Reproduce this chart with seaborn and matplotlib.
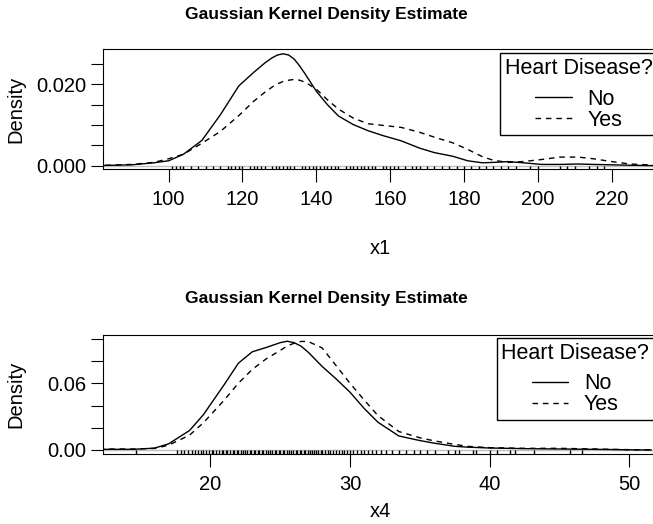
import numpy as np
import pandas as pd
import matplotlib
matplotlib.use("Agg")
import matplotlib.pyplot as plt
import seaborn as sns

# ------------------------------------------------------------
# density curves (x1 panel)
# ------------------------------------------------------------
x1_grid = [80, 90, 96, 100, 104, 109, 114, 119, 123, 126, 128, 129.5, 131,
           132.5, 134, 135.5, 137, 140, 143, 146, 150, 154, 158, 163, 168,
           172, 177, 181, 185, 188, 192, 196, 201, 206, 211, 215, 220, 225, 232]
x1_no = [0.0, 0.0002, 0.0007, 0.0012, 0.0028, 0.0062, 0.0125, 0.0196, 0.0229,
         0.0252, 0.0265, 0.0272, 0.0275, 0.0272, 0.0262, 0.0245, 0.0225,
         0.0183, 0.0150, 0.0122, 0.0101, 0.0086, 0.0074, 0.0061, 0.0043,
         0.0032, 0.0023, 0.0012, 0.0007, 0.0008, 0.0010, 0.0007, 0.0003,
         0.0003, 0.0004, 0.0003, 0.0002, 0.0001, 0.0]
x1_yes = [0.0, 0.0003, 0.0008, 0.0017, 0.0028, 0.0055, 0.0084, 0.0123, 0.0158,
          0.0180, 0.0193, 0.0201, 0.0207, 0.0210, 0.0212, 0.0210, 0.0205,
          0.0188, 0.0162, 0.0139, 0.0117, 0.0103, 0.0099, 0.0094, 0.0082,
          0.0070, 0.0056, 0.0040, 0.0022, 0.0013, 0.0008, 0.0010, 0.0015,
          0.0021, 0.0021, 0.0017, 0.0010, 0.0004, 0.0001]
x1_rug = [101, 102, 103, 104, 106, 108, 110, 112, 114, 116, 117, 118, 119, 120,
          122, 123, 124, 125, 126, 128, 129, 130, 131, 132, 133, 134, 136, 137,
          138, 139, 140, 141, 142, 143, 144, 145, 146, 148, 149, 150, 151, 152,
          153, 154, 155, 156, 158, 159, 160, 161, 162, 164, 166, 167, 168, 170,
          172, 174, 176, 178, 180, 182, 184, 186, 188, 190, 192, 194, 198, 200,
          206, 208, 210, 214, 216, 218]

# ------------------------------------------------------------
# density curves (x4 panel)
# ------------------------------------------------------------
x4_grid = [12, 14.5, 16, 17, 18.5, 19.5, 21, 22, 23, 24, 25, 25.5, 26, 26.5,
           27, 28, 29, 30, 31, 32, 33.5, 35, 36, 37.5, 38.5, 40, 42.5, 45,
           47.5, 50, 51.6]
x4_no = [0.0006, 0.0006, 0.0017, 0.0055, 0.0175, 0.0318, 0.0590, 0.0780,
         0.0883, 0.0922, 0.0965, 0.0978, 0.0965, 0.0933, 0.0880, 0.0752,
         0.0640, 0.0520, 0.0376, 0.0250, 0.0126, 0.0085, 0.0062, 0.0033,
         0.0025, 0.0018, 0.0012, 0.0009, 0.0006, 0.0002, 0.0]
x4_yes = [0.0009, 0.0009, 0.0014, 0.0043, 0.0133, 0.0245, 0.0450, 0.0600,
          0.0725, 0.0820, 0.0895, 0.0935, 0.0960, 0.0976, 0.0976, 0.0918,
          0.0760, 0.0600, 0.0452, 0.0310, 0.0166, 0.0110, 0.0083, 0.0050,
          0.0032, 0.0021, 0.0015, 0.0015, 0.0009, 0.0003, 0.0001]
x4_rug = [14.7, 17.6, 17.9, 18.1, 18.4, 18.7, 18.9, 19.1, 19.3, 19.5, 19.7,
          19.9, 20.1, 20.2, 20.4, 20.6, 20.8, 20.9, 21.1, 21.2, 21.4, 21.6,
          21.7, 21.9, 22.0, 22.2, 22.3, 22.5, 22.6, 22.8, 22.9, 23.1, 23.2,
          23.4, 23.5, 23.7, 23.8, 24.0, 24.1, 24.3, 24.4, 24.6, 24.7, 24.9,
          25.0, 25.2, 25.3, 25.5, 25.6, 25.8, 25.9, 26.1, 26.2, 26.4, 26.5,
          26.7, 26.8, 27.0, 27.1, 27.3, 27.4, 27.6, 27.7, 27.9, 28.0, 28.2,
          28.4, 28.6, 28.8, 29.0, 29.2, 29.4, 29.6, 29.8, 30.0, 30.2, 30.5,
          30.8, 31.0, 31.3, 31.6, 31.9, 32.2, 32.6, 33.0, 33.5, 34.0, 34.6,
          35.0, 35.5, 36.1, 37.0, 37.5, 37.8, 38.8, 39.0, 40.0, 40.5, 41.5,
          41.8, 43.2, 45.8, 46.6]

groups = ["No", "Yes"]
title = "Gaussian Kernel Density Estimate"
legend_title = "Heart Disease?"

# ------------------------------------------------------------
# style
# ------------------------------------------------------------
sns.set_theme(style="ticks")
plt.rcParams["font.family"] = ["Liberation Sans", "DejaVu Sans"]
plt.rcParams["axes.linewidth"] = 0.8
for key in ["text.color", "axes.labelcolor", "xtick.color", "ytick.color",
            "axes.edgecolor"]:
    plt.rcParams[key] = "black"

FS = 14.5
LEG_FS = 15.5


def long_frame(grid, no_vals, yes_vals):
    return pd.concat([
        pd.DataFrame({"x": grid, "density": no_vals, "group": groups[0]}),
        pd.DataFrame({"x": grid, "density": yes_vals, "group": groups[1]}),
    ], ignore_index=True)


def draw_panel(ax, df, rug, xlim, ylim, xticks, yticks, ylabels, xlabel,
               legend_anchor):
    ax.axhline(0, color="0.75", lw=1.0, zorder=1)
    sns.lineplot(data=df, x="x", y="density", style="group",
                 dashes={"No": "", "Yes": (4, 3.5)}, color="black", lw=1.0,
                 sort=False, ax=ax, zorder=3)
    sns.rugplot(x=rug, height=0.03, color="black", lw=0.8, ax=ax)
    ax.set_xlim(*xlim)
    ax.set_ylim(*ylim)
    ax.set_xticks(xticks)
    ax.set_yticks(yticks)
    ax.set_yticklabels(ylabels)
    ax.tick_params(axis="x", direction="out", length=9, width=0.8,
                   labelsize=FS, pad=6)
    ax.tick_params(axis="y", direction="out", length=9, width=0.8,
                   labelsize=FS, pad=3)
    for sp in ax.spines.values():
        sp.set_visible(True)
    ax.set_ylabel("Density", fontsize=FS)
    ax.yaxis.set_label_coords(-0.157, 0.5)
    ax.yaxis.label.set_va("center")
    ax.set_xlabel(xlabel, fontsize=FS)
    leg = ax.legend(title=legend_title, loc="upper left",
                    bbox_to_anchor=legend_anchor, fontsize=LEG_FS,
                    title_fontsize=LEG_FS, frameon=True, fancybox=False,
                    edgecolor="black", framealpha=1, handlelength=1.7,
                    handletextpad=0.72, borderpad=0.22, labelspacing=0.0,
                    borderaxespad=0)
    # extra gap between the legend title and its entries
    leg._legend_box.sep = 7


fig = plt.figure(figsize=(6.53, 5.24), dpi=100)
ax1 = fig.add_axes([0.1577, 0.6769, 0.8484, 0.229])
ax2 = fig.add_axes([0.1577, 0.1336, 0.8484, 0.2271])

draw_panel(ax1, long_frame(x1_grid, x1_no, x1_yes), x1_rug,
           (82.2, 232.3), (-0.0009, 0.0286),
           [100, 120, 140, 160, 180, 200, 220],
           [0.0, 0.005, 0.010, 0.015, 0.020, 0.025],
           ["0.000", "", "", "", "0.020", ""], "x1", (0.7166, 0.967))
ax1.xaxis.set_label_coords(0.5, -0.656)
ax1.xaxis.label.set_va("center")

draw_panel(ax2, long_frame(x4_grid, x4_no, x4_yes), x4_rug,
           (12.3, 52.0), (-0.0036, 0.1034),
           [20, 30, 40, 50],
           [0.0, 0.02, 0.04, 0.06, 0.08, 0.10],
           ["0.00", "", "", "0.06", "", ""], "x4", (0.7106, 0.975))
ax2.xaxis.set_label_coords(0.5, -0.487)
ax2.xaxis.label.set_va("center")

fig.text(0.5, 0.972, title, ha="center", va="center", fontsize=12.5,
         fontweight="bold")
fig.text(0.5, 0.430, title, ha="center", va="center", fontsize=12.5,
         fontweight="bold")

fig.savefig("out.png", dpi=100)
plt.close(fig)
